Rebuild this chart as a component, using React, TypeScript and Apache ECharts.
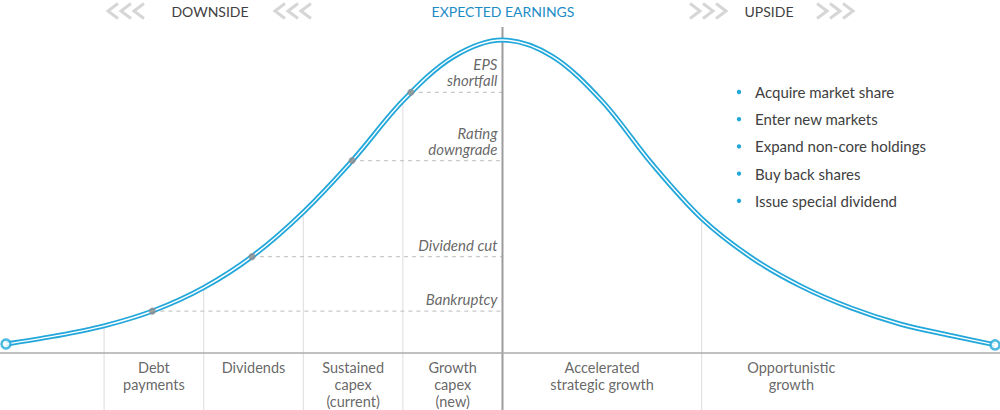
import React, { useEffect, useRef } from "react";
import * as echarts from "echarts";

// Earnings distribution curve (x: earnings outcome, y: relative likelihood)
const curveX = [-99.7, -90, -80, -70, -60, -50, -40, -30, -20, -10, 0, 10, 20, 30, 40, 50, 60, 70, 80, 90, 98.9];
const curveY = [2.9, 5.4, 8.7, 13.6, 20.9, 31.2, 45.0, 61.8, 80.6, 94.5, 100, 94.8, 80.5, 60.5, 43.0, 30.5, 21.3, 14.4, 9.2, 5.6, 2.6];

// Downside trigger points sitting on the curve
const thresholdNames = ["Bankruptcy", "Dividend cut", "Rating\ndowngrade", "EPS\nshortfall"];
const thresholdX = [-70.3, -50.3, -30.2, -18.4];
const thresholdY = [13.4, 30.8, 61.5, 83.3];

// Segment dividers, rising from the bottom edge up to the curve
const dividerX = [-80, -60, -40, -20, 40];

// Uses of cash along the earnings range
const useNames = [
  "Debt\npayments",
  "Dividends",
  "Sustained\ncapex\n(current)",
  "Growth\ncapex\n(new)",
  "Accelerated\nstrategic growth",
  "Opportunistic\ngrowth",
];
const useX = [-70, -50, -30, -10, 20, 58];

const upsideActions = [
  "Acquire market share",
  "Enter new markets",
  "Expand non-core holdings",
  "Buy back shares",
  "Issue special dividend",
];

const headerTitles = ["DOWNSIDE", "EXPECTED EARNINGS", "UPSIDE"];

const X_MIN = -100.9;
const X_MAX = 99.9;
const Y_MIN = -18.2;
const Y_MAX = 112.8;
const CENTER_TOP = 104.2;

const BLUE = "#22a7da";
const TEXT = "#404040";
const FONT = "Lato";
// Catmull-Rom-like tension for evenly spaced points
const SMOOTH = 0.33;

function chevron(x: number, dir: 1 | -1) {
  // dir -1 draws "<", dir 1 draws ">"
  const w = 10;
  const h = 7.5;
  const cy = 11;
  const pts =
    dir === -1
      ? [
          [x + w, cy - h],
          [x, cy],
          [x + w, cy + h],
        ]
      : [
          [x, cy - h],
          [x + w, cy],
          [x, cy + h],
        ];
  return {
    type: "polyline",
    shape: { points: pts },
    style: { stroke: "#d6d6d6", lineWidth: 3, fill: null, lineJoin: "miter" },
    silent: true,
  };
}

export default function App() {
  const ref = useRef<HTMLDivElement>(null);

  useEffect(() => {
    if (!ref.current) return;
    const chart = echarts.init(ref.current, undefined, { renderer: "svg" });

    const curve = curveX.map((x, i) => [x, curveY[i]]);

    const dividerSeries = dividerX.map((x) => ({
      type: "line",
      data: [
        [x, Y_MIN],
        [x, curveY[curveX.indexOf(x)]],
      ],
      showSymbol: false,
      silent: true,
      lineStyle: { color: "#dcdcdc", width: 1 },
      z: 1,
    }));

    const thresholdSeries = thresholdX.map((x, i) => ({
      type: "line",
      data: [
        [x, thresholdY[i]],
        [0, thresholdY[i]],
      ],
      showSymbol: false,
      silent: true,
      lineStyle: { color: "#c9c9c9", width: 1.2, type: [4, 4] },
      z: 1,
    }));

    const headerPositions = [210, 503, 769];
    const headerColors = [TEXT, "#1b8cc6", TEXT];

    const graphics: any[] = [];
    headerTitles.forEach((t, i) => {
      graphics.push({
        type: "text",
        x: headerPositions[i],
        y: 11,
        style: {
          text: t,
          fill: headerColors[i],
          font: `14px ${FONT}`,
          textAlign: "center",
          textVerticalAlign: "middle",
        },
        silent: true,
      });
    });
    [108, 121, 134, 275, 288, 301].forEach((x) => graphics.push(chevron(x, -1)));
    [690, 703, 716, 817, 830, 843].forEach((x) => graphics.push(chevron(x, 1)));
    upsideActions.forEach((t, i) => {
      const y = 92 + i * 27.2;
      graphics.push({
        type: "circle",
        shape: { cx: 739, cy: y, r: 2.2 },
        style: { fill: BLUE },
        silent: true,
      });
      graphics.push({
        type: "text",
        x: 755,
        y,
        style: {
          text: t,
          fill: TEXT,
          font: `15px ${FONT}`,
          textVerticalAlign: "middle",
        },
        silent: true,
      });
    });

    chart.setOption({
      animation: false,
      backgroundColor: "#ffffff",
      textStyle: { fontFamily: FONT },
      grid: { left: 0, right: 0, top: 0, bottom: 0 },
      xAxis: {
        type: "value",
        min: X_MIN,
        max: X_MAX,
        show: false,
      },
      yAxis: {
        type: "value",
        min: Y_MIN,
        max: Y_MAX,
        show: false,
      },
      graphic: graphics,
      series: [
        ...dividerSeries,
        {
          type: "line",
          data: [
            [0, Y_MIN],
            [0, CENTER_TOP],
          ],
          showSymbol: false,
          silent: true,
          lineStyle: { color: "#9c9c9c", width: 2 },
          z: 2,
        },
        {
          type: "line",
          data: [
            [X_MIN, 0],
            [X_MAX, 0],
          ],
          showSymbol: false,
          silent: true,
          lineStyle: { color: "#ababab", width: 1.5 },
          z: 2,
        },
        ...thresholdSeries,
        {
          type: "line",
          data: curve,
          smooth: SMOOTH,
          showSymbol: false,
          silent: true,
          lineStyle: { color: BLUE, width: 5 },
          z: 3,
        },
        {
          type: "line",
          data: curve,
          smooth: SMOOTH,
          showSymbol: false,
          silent: true,
          lineStyle: { color: "#ffffff", width: 1.4 },
          z: 4,
        },
        {
          type: "scatter",
          data: thresholdX.map((x, i) => [x, thresholdY[i]]),
          symbolSize: 7,
          itemStyle: { color: "#8c8c8c" },
          silent: true,
          z: 5,
        },
        {
          type: "scatter",
          data: [curve[0], curve[curve.length - 1]],
          symbolSize: 9,
          itemStyle: { color: "#ffffff", borderColor: BLUE, borderWidth: 2.5 },
          silent: true,
          z: 5,
        },
        {
          type: "scatter",
          symbolSize: 0,
          silent: true,
          z: 6,
          data: thresholdY.map((y, i) => ({
            value: [0, y],
            name: thresholdNames[i],
            label: {
              offset: [0, thresholdNames[i].includes("\n") ? -20 : -12],
            },
          })),
          label: {
            show: true,
            position: "left",
            distance: 5,
            formatter: (p: any) => p.name,
            fontStyle: "italic",
            fontSize: 15,
            lineHeight: 16,
            color: TEXT,
            align: "right",
          },
        },
        {
          type: "scatter",
          symbolSize: 0,
          silent: true,
          z: 6,
          data: useX.map((x, i) => ({ value: [x, 0], name: useNames[i] })),
          label: {
            show: true,
            position: "bottom",
            distance: 6,
            formatter: (p: any) => p.name,
            fontSize: 14.5,
            lineHeight: 17,
            color: TEXT,
            align: "center",
          },
        },
      ],
    });

    return () => chart.dispose();
  }, []);

  return (
    <div
      ref={ref}
      style={{ position: "absolute", left: 0, top: 0, width: 1000, height: 410 }}
    />
  );
}
